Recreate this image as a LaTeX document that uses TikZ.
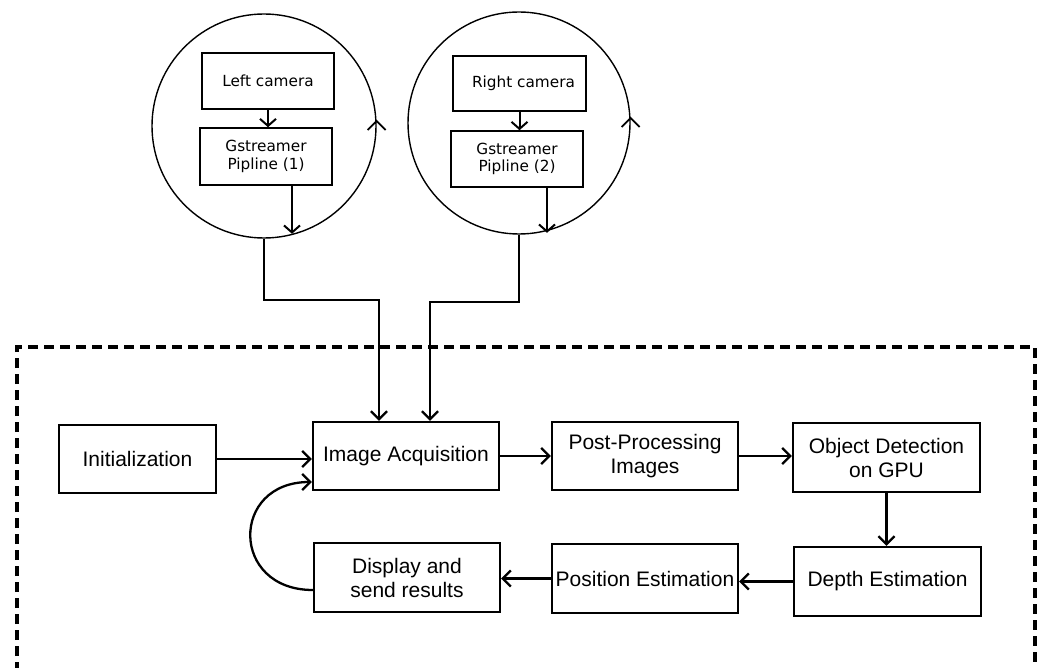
\documentclass[tikz,border=0pt]{standalone}
\usepackage{fontspec}
\setmainfont{Liberation Sans}
\newfontfamily\dvs{DejaVu Sans}
\usetikzlibrary{arrows.meta,calc}
\begin{document}
\begin{tikzpicture}[x=1pt,y=-1pt,
  bigbox/.style={draw,line width=2.3pt,inner sep=0pt,align=center,font=\fontsize{21}{24}\selectfont},
  smallbox/.style={draw,line width=1.6pt,inner sep=0pt,align=center,font=\dvs\fontsize{15.3}{17.5}\selectfont},
  ring/.style={draw,circle,line width=1.4pt,inner sep=0pt},
  arr/.style={line width=2.3pt,-{Straight Barb[length=8pt,width=16pt]}},
  sarr/.style={line width=2pt,-{Straight Barb[length=7pt,width=16pt]}},
  chev/.style={line width=1.8pt},
  frame/.style={line width=3.2pt,dash pattern=on 10pt off 6pt}]
\useasboundingbox (0,0) rectangle (1040,668);
\fill[white] (0,0) rectangle (1040,668);

% camera loops
\node[ring,minimum size=224pt] (lc) at (264,126) {};
\node[ring,minimum size=222pt] (rc) at (519,123) {};
\node[smallbox,minimum width=132pt,minimum height=56pt] (lcam) at (268,81) {Left camera};
\node[smallbox,minimum width=132pt,minimum height=57pt] (gp1) at (266,156.5) {Gstreamer\\Pipline (1)};
\node[smallbox,minimum width=133pt,minimum height=55pt] (rcam) at (519.5,83.5) {\hspace*{8pt}Right camera};
\node[smallbox,minimum width=132pt,minimum height=56pt] (gp2) at (517,159) {Gstreamer\\Pipline (2)};

\draw[sarr] (lcam.south) -- (lcam.south |- gp1.north);
\draw[sarr] (rcam.south) -- (rcam.south |- gp2.north);
\draw[sarr] ($(gp1.south)+(26,0)$) -- ++(0,48);
\draw[sarr] ($(gp2.south)+(30,0)$) -- ++(0,45);
\draw[chev] ($(lc.east)+(-9,4)$) -- ($(lc.east)+(0,-5)$) -- ($(lc.east)+(9,4)$);
\draw[chev] ($(rc.east)+(-9,4)$) -- ($(rc.east)+(0,-5)$) -- ($(rc.east)+(9,4)$);

% dashed frame
\draw[frame] (17,672) -- (17,347) -- (1035,347) -- (1035,672);

% main flow
\node[bigbox,minimum width=157pt,minimum height=68pt] (init) at (137.5,459) {Initialization};
\node[bigbox,minimum width=186pt,minimum height=68pt] (ia) at (406,456) {Image Acquisition};
\node[bigbox,minimum width=186pt,minimum height=68pt] (pp) at (645,456) {Post-Processing\\Images};
\node[bigbox,minimum width=187pt,minimum height=69pt] (od) at (886.5,457.5) {Object Detection\\on GPU};
\node[bigbox,minimum width=187pt,minimum height=69pt] (de) at (887.5,581.5) {Depth Estimation};
\node[bigbox,minimum width=186pt,minimum height=69pt] (pe) at (645,578.5) {Position Estimation};
\node[bigbox,minimum width=186pt,minimum height=69pt] (ds) at (407,577.5) {Display and\\send results};

\draw[arr] (lc.south) -- ++(0,61) -| ($(ia.north)+(-27,0)$);
\draw[arr] (rc.south) -- ++(0,67) -| ($(ia.north)+(24,0)$);
\draw[arr] (init.east) -- (init.east -| ia.west);
\draw[arr] (ia.east) -- (pp.west);
\draw[arr] (pp.east) -- (pp.east -| od.west);
\draw[arr] (od.south) -- (od.south |- de.north);
\draw[arr] (de.west) -- (de.west -| pe.east);
\draw[arr] (pe.west) -- (pe.west -| ds.east);
\draw[arr] ($(ds.west)+(0,12.5)$) .. controls (230,590) and (230,482) .. ($(ia.west)+(0,26)$);
\end{tikzpicture}
\end{document}
